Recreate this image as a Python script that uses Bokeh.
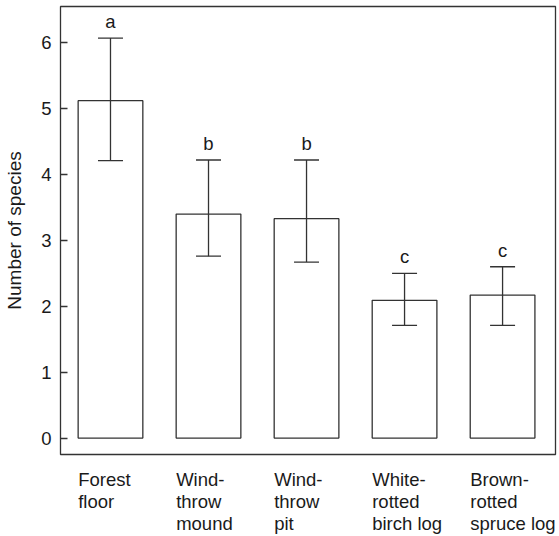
from bokeh.plotting import figure
from bokeh.models import ColumnDataSource, Whisker, TeeHead, Range1d, FixedTicker
from bokeh.layouts import column
from bokeh.core.properties import value
from bokeh.embed import file_html
from bokeh.resources import INLINE

categories = ["Forest\nfloor", "Wind-\nthrow\nmound", "Wind-\nthrow\npit",
              "White-\nrotted\nbirch log", "Brown-\nrotted\nspruce log"]
means = [5.12, 3.40, 3.33, 2.09, 2.17]
upper = [6.07, 4.22, 4.22, 2.50, 2.60]
lower = [4.21, 2.76, 2.67, 1.71, 1.71]
letters = ["a", "b", "b", "c", "c"]
y_ticks = [0, 1, 2, 3, 4, 5, 6]

FONT = "Liberation Sans"
LINE = "#333333"
TEXT = "#1a1a1a"
BAR_W = 0.66
Y0, Y1 = -0.25, 6.55
LINE_STEP = 22

idx = list(range(len(categories)))
left_edges = [i - BAR_W / 2 for i in idx]
src = ColumnDataSource(dict(x=idx, top=means, upper=upper, lower=lower, letters=letters))
xr = Range1d(-0.51, 4.54)

p = figure(width=559, height=456, output_backend="svg", toolbar_location=None,
           x_range=xr, y_range=Range1d(Y0, Y1), x_axis_location=None,
           min_border_left=60, min_border_right=4, min_border_top=6, min_border_bottom=2)
p.xgrid.visible = False
p.ygrid.visible = False
p.outline_line_color = LINE
p.outline_line_width = 1.3
p.background_fill_color = "white"
p.border_fill_color = "white"

p.vbar(x="x", top="top", bottom=0, width=BAR_W, source=src,
       fill_color="white", line_color=LINE, line_width=1.3)

w = Whisker(base="x", upper="upper", lower="lower", source=src, level="annotation",
            line_color=LINE, line_width=1.3,
            upper_head=TeeHead(size=25, line_color=LINE, line_width=1.3),
            lower_head=TeeHead(size=25, line_color=LINE, line_width=1.3))
p.add_layout(w)

p.text(x="x", y="upper", text="letters", source=src, text_align="center",
       text_baseline="bottom", y_offset=-6, text_font=value(FONT),
       text_font_size="18.5px", text_color=TEXT)

# y axis
p.yaxis.ticker = FixedTicker(ticks=y_ticks)
p.yaxis.axis_line_color = None
p.yaxis.major_tick_in = 7
p.yaxis.major_tick_out = 0
p.yaxis.minor_tick_line_color = None
p.yaxis.major_tick_line_color = LINE
p.yaxis.major_tick_line_width = 1.3
p.yaxis.major_label_standoff = 9
p.yaxis.major_label_text_font = FONT
p.yaxis.major_label_text_font_size = "18.5px"
p.yaxis.major_label_text_color = TEXT
p.yaxis.axis_label = "Number of species"
p.yaxis.axis_label_text_font = FONT
p.yaxis.axis_label_text_font_size = "19px"
p.yaxis.axis_label_text_font_style = "normal"
p.yaxis.axis_label_text_color = TEXT
p.yaxis.axis_label_standoff = 13

# category labels: a strip below sharing the x range, left-aligned at bar left edges
p2 = figure(width=559, height=80, output_backend="svg", toolbar_location=None,
            x_range=xr, y_range=Range1d(-1, 0), x_axis_location=None, y_axis_location=None,
            min_border_left=60, min_border_right=4, min_border_top=0, min_border_bottom=0)
p2.xgrid.visible = False
p2.ygrid.visible = False
p2.outline_line_color = None
p2.background_fill_color = "white"
p2.border_fill_color = "white"

split = [c.split("\n") for c in categories]
n_lines = max(len(s) for s in split)
for k in range(n_lines):
    xs = [left_edges[i] for i, s in enumerate(split) if len(s) > k]
    ts = [s[k] for s in split if len(s) > k]
    lsrc = ColumnDataSource(dict(x=xs, y=[0] * len(xs), t=ts))
    p2.text(x="x", y="y", text="t", source=lsrc, text_align="left",
            text_baseline="top", y_offset=12 + LINE_STEP * k,
            text_font=value(FONT), text_font_size="18.5px", text_color=TEXT)

layout = column(p, p2, spacing=0)
open("out.html", "w").write(file_html(layout, INLINE))
